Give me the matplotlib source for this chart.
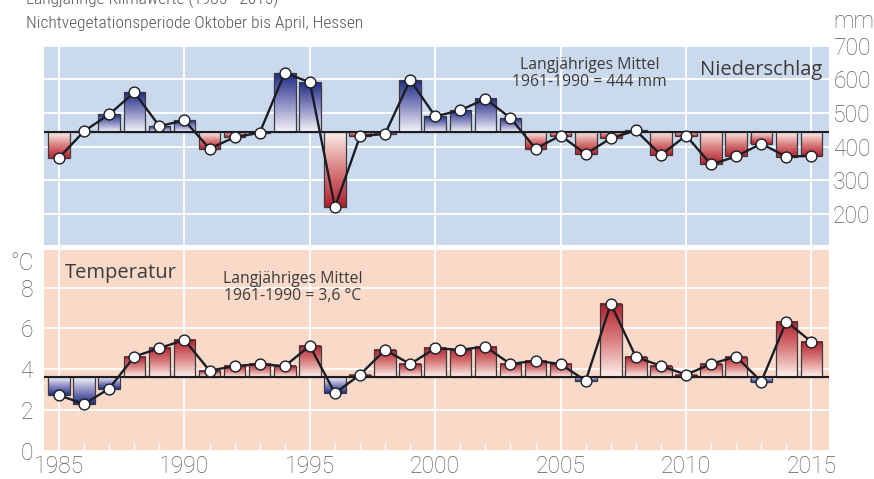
import numpy as np
import matplotlib
matplotlib.use("Agg")
import matplotlib.pyplot as plt
from matplotlib.colors import LinearSegmentedColormap
from matplotlib.ticker import MultipleLocator

# ---------------- data ----------------
years = list(range(1985, 2016))
precip = [367, 446, 496, 561, 461, 478, 394, 428, 441, 619, 591, 220, 431, 438, 598,
          490, 508, 542, 485, 394, 433, 378, 425, 448, 375, 433, 347, 371, 409, 370, 373]
temp = [2.72, 2.29, 3.05, 4.62, 5.03, 5.44, 3.93, 4.15, 4.25, 4.15, 5.15, 2.82, 3.73,
        4.95, 4.25, 5.03, 4.95, 5.11, 4.25, 4.42, 4.25, 3.43, 7.21, 4.60, 4.16, 3.73,
        4.26, 4.62, 3.39, 6.34, 5.34]
precip_mean = 444
temp_mean = 3.6
precip_ticks = [200, 300, 400, 500, 600, 700]
temp_ticks = [0, 2, 4, 6, 8]
year_ticks = [1985, 1990, 1995, 2000, 2005, 2010, 2015]

title1 = "Langjährige Klimawerte (1985 - 2015)"
title2 = "Nichtvegetationsperiode Oktober bis April, Hessen"

# ---------------- style ----------------
W, H = 874, 479
fig = plt.figure(figsize=(W / 100, H / 100), dpi=100)

TICK_FONT = ['Roboto', 'Liberation Sans', 'DejaVu Sans']
TITLE_FONT = ['Liberation Sans Narrow', 'Roboto Condensed', 'Roboto', 'DejaVu Sans']
ANNO_FONT = ['Open Sans', 'DejaVu Sans']
tick_col = '#5f5f5f'
text_col = '#3c3c3c'

blue_cmap = LinearSegmentedColormap.from_list('b', ['#f6f4fb', '#8a8cc2', '#1f2b84'])
red_cmap = LinearSegmentedColormap.from_list('r', ['#fdf1ec', '#d98080', '#b31f2b'])


def px_rect(x0, y0, x1, y1):
    return [x0 / W, 1 - y1 / H, (x1 - x0) / W, (y1 - y0) / H]


def draw_panel(ax, vals, base, bg, ylim, up_cmap, down_cmap):
    ax.set_facecolor(bg)
    for s in ax.spines.values():
        s.set_visible(False)
    w = 0.86
    for x, v in zip(years, vals):
        if v >= base:
            grad = np.linspace(0, 1, 256).reshape(-1, 1)
            ax.imshow(grad, extent=(x - w / 2, x + w / 2, base, v), origin='lower',
                      cmap=up_cmap, aspect='auto', zorder=2, interpolation='bilinear')
        else:
            grad = np.linspace(1, 0, 256).reshape(-1, 1)
            ax.imshow(grad, extent=(x - w / 2, x + w / 2, v, base), origin='lower',
                      cmap=down_cmap, aspect='auto', zorder=2, interpolation='bilinear')
    heights = [v - base for v in vals]
    ax.bar(years, heights, bottom=base, width=w, fill=False, edgecolor='#3a3a40',
           linewidth=0.9, zorder=3)
    ax.axhline(base, color='#1a1d22', lw=1.5, zorder=4)
    ax.plot(years, vals, color='#1a1e24', lw=1.7, zorder=5,
            marker='o', markersize=7.8, markerfacecolor='white',
            markeredgecolor='#1a1e24', markeredgewidth=1.0)
    ax.set_xlim(1984.4, 2015.7)
    ax.set_ylim(*ylim)
    ax.set_xticks(year_ticks)
    ax.grid(True, which='major', color='white', lw=1.3)
    ax.set_axisbelow(True)
    ax.tick_params(which='major', length=0)


# top panel: precipitation (wet = blue, dry = red)
ax1 = fig.add_axes(px_rect(44, 45.6, 829, 245))
draw_panel(ax1, precip, precip_mean, '#cbd9ec', (108, 700), blue_cmap, red_cmap)
ax1.set_yticks(precip_ticks)
ax1.yaxis.tick_right()
ax1.tick_params(axis='y', pad=3, labelsize=16.5, labelcolor=tick_col)
ax1.set_xticklabels([])
for lab in ax1.get_yticklabels():
    lab.set_family(TICK_FONT)
    lab.set_fontweight('light')
ax1.text(2015.44, 628, "Niederschlag", ha='right', va='center', fontsize=14.5,
         color=text_col, family=ANNO_FONT)
ax1.text(2006.15, 616, "Langjähriges Mittel\n1961-1990 = 444 mm", ha='center',
         va='center', fontsize=11.3, color=text_col, family=ANNO_FONT, linespacing=1.1)

# bottom panel: temperature (warm = red, cold = blue)
ax2 = fig.add_axes(px_rect(44, 250, 829, 450.7))
draw_panel(ax2, temp, temp_mean, '#f9d9c8', (0, 9.85), red_cmap, blue_cmap)
ax2.set_yticks(temp_ticks)
ax2.tick_params(axis='y', pad=8, labelsize=16.5, labelcolor=tick_col)
ax2.tick_params(axis='x', pad=3, labelsize=16.5, labelcolor=tick_col)
ax2.xaxis.set_minor_locator(MultipleLocator(1))
ax2.tick_params(axis='x', which='minor', direction='in', length=6, width=1,
                color='white')
for lab in ax2.get_yticklabels() + ax2.get_xticklabels():
    lab.set_family(TICK_FONT)
    lab.set_fontweight('light')
ax2.text(1985.24, 8.72, "Temperatur", ha='left', va='center', fontsize=14.5,
         color=text_col, family=ANNO_FONT)
ax2.text(1994.3, 8.02, "Langjähriges Mittel\n1961-1990 = 3,6 °C", ha='center',
         va='center', fontsize=11.3, color=text_col, family=ANNO_FONT, linespacing=1.1)

# unit labels
fig.text(833 / W, 1 - 21 / H, "mm", ha='left', va='center', fontsize=16.5,
         color=tick_col, family=TICK_FONT, fontweight='light')
fig.text(34 / W, 1 - 263 / H, "°C", ha='right', va='center', fontsize=16.5,
         color=tick_col, family=TICK_FONT, fontweight='light')

# titles
fig.text(26 / W, 1 - 4 / H, title1, ha='left', va='baseline', fontsize=12.5,
         color='#555555', family=TITLE_FONT, fontweight='light')
fig.text(26 / W, 1 - 28 / H, title2, ha='left', va='baseline', fontsize=12.5,
         color='#555555', family=TITLE_FONT, fontweight='light')

fig.savefig("out.png", dpi=100)
